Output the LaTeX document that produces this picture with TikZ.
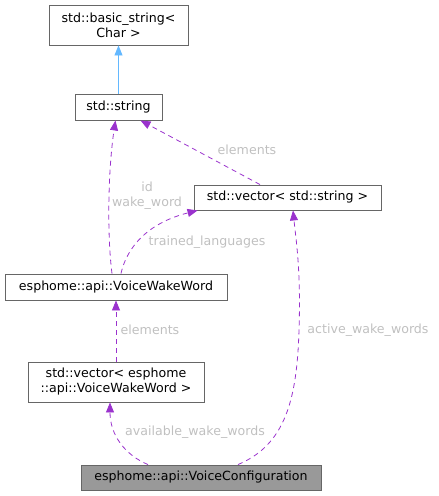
\documentclass[tikz,border=0pt]{standalone}
\usepackage{fontspec}
\setmainfont{DejaVu Sans}
\usetikzlibrary{arrows.meta}
\definecolor{boxline}{HTML}{666666}
\definecolor{usecol}{HTML}{9A32CD}
\definecolor{inhcol}{HTML}{63B8FF}
\definecolor{lblcol}{HTML}{C0C0C0}
\definecolor{hilite}{HTML}{999999}
\begin{document}
\begin{tikzpicture}[x=1pt,y=-1pt]
    \tikzstyle{cls}=[rectangle,draw=boxline,line width=0.9pt,fill=white,inner sep=0pt,align=center,font=\fontsize{12.6}{15}\selectfont]
    \tikzstyle{edge}=[draw=usecol, line width=0.8pt, dashed, dash pattern=on 5pt off 4pt, -{Triangle[length=10pt,width=8pt]}]
    \tikzstyle{inh}=[draw=inhcol, line width=0.8pt, -{Triangle[length=10pt,width=8pt]}]
    \tikzstyle{lbl}=[text=lblcol,inner sep=0pt,align=center,font=\fontsize{12.6}{15}\selectfont]
    \useasboundingbox (0,0) rectangle (439,496);
    \begin{scope}
        \node [cls,minimum width=139pt,minimum height=40pt] (c1) at (118.5,25) {std::basic\_string<\\Char >};
        \node [cls,minimum width=87pt,minimum height=26pt] (c2) at (118.5,107) {std::string};
        \node [cls,minimum width=187pt,minimum height=25pt] (c3) at (287.5,197.5) {std::vector< std::string >};
        \node [cls,minimum width=222pt,minimum height=26pt] (c4) at (116,287) {esphome::api::VoiceWakeWord};
        \node [cls,minimum width=176pt,minimum height=40pt] (c5) at (116,382) {std::vector< esphome\\::api::VoiceWakeWord >};
        \node [cls,fill=hilite,minimum width=240pt,minimum height=25pt] (c6) at (201,477.5) {esphome::api::VoiceConfiguration};
        % edges
        \path[inh] (c2.north) -- (c1.south);
        \path[edge] ([xshift=-4pt]c4.north) .. controls (107,235) and (108,170) .. ([xshift=-3pt]c2.south);
        \path[edge] ([xshift=-27.5pt]c3.north) -- ([xshift=22pt]c2.south);
        \path[edge] ([xshift=5pt]c4.north) .. controls (125,255) and (140,225) .. ([xshift=4pt]c3.south west);
        \path[edge] (c5.north) -- (c4.south);
        \path[edge] ([xshift=-53pt]c6.north) .. controls (125,455) and (110,435) .. ([xshift=-6pt]c5.south);
        \path[edge] ([xshift=37pt]c6.north) .. controls (285,445) and (297,400) .. (299,330) .. controls (301,270) and (296,240) .. ([xshift=5.5pt]c3.south);
        % labels
        \node [lbl] (l1) at (147,195.5) {id\\wake\_word};
        \node [lbl] (l2) at (247,150) {elements};
        \node [lbl] (l3) at (207,242) {trained\_languages};
        \node [lbl] (l4) at (150,330) {elements};
        \node [lbl] (l5) at (195,432) {available\_wake\_words};
        \node [lbl] (l6) at (368,330) {active\_wake\_words};
    \end{scope}
\end{tikzpicture}
\end{document}
